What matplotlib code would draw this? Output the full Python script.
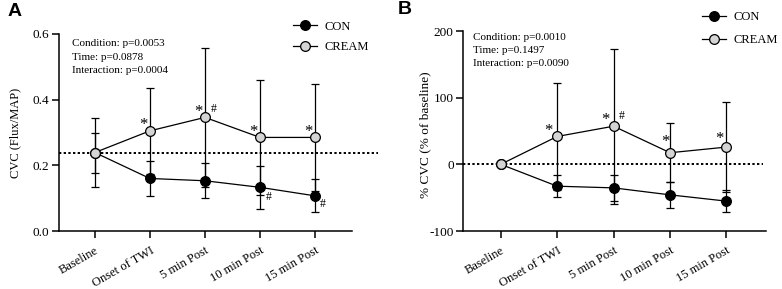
import matplotlib
matplotlib.use("Agg")
import matplotlib.pyplot as plt
from matplotlib.lines import Line2D
import numpy as np

plt.rcParams['font.family'] = ['Liberation Serif', 'DejaVu Serif']
plt.rcParams['axes.unicode_minus'] = False

categories = ["Baseline", "Onset of TWI", "5 min Post", "10 min Post", "15 min Post"]

# Panel A: CVC (Flux/MAP)
a_con = [0.239, 0.160, 0.153, 0.133, 0.107]
a_con_sd = [0.061, 0.053, 0.053, 0.066, 0.050]
a_cream = [0.239, 0.305, 0.346, 0.285, 0.285]
a_cream_sd = [0.106, 0.130, 0.212, 0.174, 0.162]
a_stats = ["Condition: p=0.0053", "Time: p=0.0878", "Interaction: p=0.0004"]
a_yticks = [0.0, 0.2, 0.4, 0.6]
a_yticklabels = ["0.0", "0.2", "0.4", "0.6"]

# Panel B: % CVC (% of baseline)
b_con = [0.0, -32.8, -35.3, -45.8, -55.2]
b_con_sd = [0.0, 16.5, 19.0, 20.0, 17.0]
b_cream = [0.0, 41.8, 57.2, 17.4, 25.9]
b_cream_sd = [0.0, 79.6, 116.0, 44.3, 68.0]
b_stats = ["Condition: p=0.0010", "Time: p=0.1497", "Interaction: p=0.0090"]
b_yticks = [-100, 0, 100, 200]
b_yticklabels = ["-100", "0", "100", "200"]

series_labels = ["CON", "CREAM"]

W, H = 782, 289
fig = plt.figure(figsize=(W / 100, H / 100), dpi=100)

def px_axes(left, top, right, bottom):
    return fig.add_axes([left / W, 1 - bottom / H, (right - left) / W, (bottom - top) / H])

axA = px_axes(58.5, 34, 352, 231)
axB = px_axes(462.7, 31, 766, 231)

gray = "#d4d4d4"
x = np.arange(len(categories))

def draw(ax, con, con_sd, cream, cream_sd, ylim, xlim, yticks, yticklabels, ylabel,
         ylabel_size, ylabel_pos, stats, stats_pos, stats_step, dot_xmax,
         marks_cream, marks_con):
    ax.set_xlim(*xlim)
    ax.set_ylim(*ylim)
    ax.axhline(con[0], xmin=0, xmax=dot_xmax, color="black",
               linestyle=(0, (1.2, 1.2)), lw=1.4, clip_on=False, zorder=1)
    kw = dict(capsize=3.2, elinewidth=0.9, capthick=0.9, lw=0.9, ms=7,
              markeredgecolor="black", markeredgewidth=0.9, clip_on=False)
    ax.errorbar(x, con, yerr=con_sd, fmt="-o", color="black", markerfacecolor="black",
                ecolor="black", zorder=3, **kw)
    ax.errorbar(x, cream, yerr=cream_sd, fmt="-o", color="black", markerfacecolor=gray,
                ecolor="black", zorder=4, **kw)
    for s in ["top", "right"]:
        ax.spines[s].set_visible(False)
    for s in ["left", "bottom"]:
        ax.spines[s].set_linewidth(1.1)
    ax.set_xticks(x)
    ax.set_xticklabels(categories, rotation=30, ha="right", rotation_mode="anchor",
                       fontsize=9)
    ax.set_yticks(yticks)
    ax.set_yticklabels(yticklabels, fontsize=9.5)
    ax.tick_params(axis="both", direction="out", length=5, width=1.1, pad=1.5)
    ax.tick_params(axis="x", pad=5)
    ax.set_ylabel(ylabel, fontsize=ylabel_size)
    ax.yaxis.set_label_coords(*ylabel_pos)
    for i, t in enumerate(stats):
        ax.text(stats_pos[0], stats_pos[1] - i * stats_step, t, transform=ax.transAxes,
                fontsize=8.0, va="center", ha="left")
    for (i, sym, dx, dy) in marks_cream:
        ax.annotate(sym, (x[i], cream[i]), xytext=(dx, dy), textcoords="offset points",
                    ha="center", va="center", fontsize=12 if sym == "*" else 8.5)
    for (i, sym, dx, dy) in marks_con:
        ax.annotate(sym, (x[i], con[i]), xytext=(dx, dy), textcoords="offset points",
                    ha="center", va="center", fontsize=8.5)

draw(axA, a_con, a_con_sd, a_cream, a_cream_sd, (0, 0.6), (-0.66, 4.67),
     a_yticks, a_yticklabels, "CVC (Flux/MAP)", 9.0, (-0.128, 0.50),
     a_stats, (0.046, 0.95), 13.3 / 197, 1.09,
     [(1, "*", -4.5, 4.0), (2, "*", -4.5, 4.0), (2, "#", 6.3, 6.3),
      (3, "*", -4.5, 4.0), (4, "*", -4.5, 4.0)],
     [(3, "#", 6.5, -7.0), (4, "#", 5.8, -5.8)])

draw(axB, b_con, b_con_sd, b_cream, b_cream_sd, (-100, 200), (-0.674, 4.70),
     b_yticks, b_yticklabels, "% CVC (% of baseline)", 9.5, (-0.104, 0.48),
     b_stats, (0.035, 0.967), 13.0 / 200, 0.99,
     [(1, "*", -6.0, 4.0), (2, "*", -6.0, 4.5), (2, "#", 6.0, 7.0),
      (3, "*", -3.5, 8.0), (4, "*", -5.3, 5.5)],
     [])

def legend_handles():
    return [Line2D([], [], color="black", lw=0.9, marker="o", ms=7,
                   markerfacecolor="black", markeredgecolor="black", markeredgewidth=0.9),
            Line2D([], [], color="black", lw=0.9, marker="o", ms=7,
                   markerfacecolor=gray, markeredgecolor="black", markeredgewidth=0.9)]

for ax, (lx, ly, sp) in [(axA, (293, 20.5, 0.68)), (axB, (702, 11.5, 0.85))]:
    ax.legend(legend_handles(), series_labels, loc="upper left",
              bbox_to_anchor=(lx / W, 1 - ly / H),
              bbox_transform=fig.transFigure, frameon=False, fontsize=9,
              handlelength=1.9, handletextpad=0.65, labelspacing=sp, borderpad=0,
              borderaxespad=0)

fig.text(8 / W, 1 - 3 / H, "A", fontsize=14, fontweight="bold", family="Liberation Sans",
         va="top", ha="left")
fig.text(398 / W, 1 - 1 / H, "B", fontsize=14, fontweight="bold", family="Liberation Sans",
         va="top", ha="left")

fig.savefig("out.png", dpi=100)
